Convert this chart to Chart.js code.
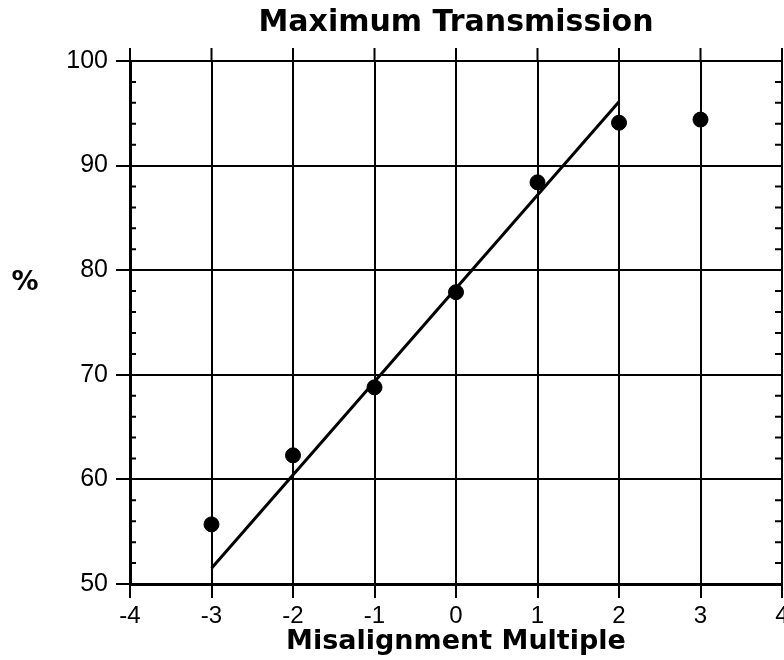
<!DOCTYPE html>
<html>
<head>
<meta charset="utf-8">
<script src="https://cdn.jsdelivr.net/npm/chart.js@4.4.1/dist/chart.umd.min.js"></script>
<style>
  html, body { margin: 0; padding: 0; background: #fff; }
  #wrap { width: 784px; height: 660px; }
</style>
</head>
<body>
<div id="wrap"><canvas id="chart" width="784" height="660"></canvas></div>
<script>
// measured points
const misalignment = [-3, -2, -1, 0, 1, 2, 3];
const transmission = [55.7, 62.3, 68.8, 77.9, 88.4, 94.1, 94.4];

// straight line drawn through the data
const fitX = [-3, 2];
const fitY = [51.5, 96.1];

const xRange = [-4, 4];
const yRange = [50, 100];
const yMajorStep = 10;
const yMinorStep = 2;

const toPoints = function (xs, ys) {
    return xs.map(function (x, i) { return { x: x, y: ys[i] }; });
};

// minor ticks on both side axes, tick stubs above the frame, and the "%" label
const extras = {
    id: 'extras',
    afterDraw: function (chart) {
        const ctx = chart.ctx;
        const area = chart.chartArea;
        const xs = chart.scales.x;
        const ys = chart.scales.y;
        ctx.save();
        ctx.strokeStyle = '#000';
        ctx.lineWidth = 2;
        ctx.beginPath();
        for (let v = yRange[0]; v <= yRange[1]; v += yMinorStep) {
            if (v % yMajorStep === 0) continue;
            const py = ys.getPixelForValue(v);
            ctx.moveTo(area.left, py);
            ctx.lineTo(area.left + 6, py);
            ctx.moveTo(area.right, py);
            ctx.lineTo(area.right - 7, py);
        }
        for (let v = xRange[0]; v <= xRange[1]; v++) {
            const px = xs.getPixelForValue(v);
            ctx.moveTo(px, area.top);
            ctx.lineTo(px, area.top - 13);
        }
        ctx.stroke();

        ctx.fillStyle = '#000';
        ctx.font = 'bold 27px "DejaVu Sans"';
        ctx.textAlign = 'center';
        ctx.textBaseline = 'middle';
        ctx.fillText('%', 25, area.top + (area.bottom - area.top) * 0.425);
        ctx.restore();
    }
};

new Chart(document.getElementById('chart').getContext('2d'), {
    type: 'scatter',
    data: {
        datasets: [
            {
                label: 'fit',
                type: 'line',
                data: toPoints(fitX, fitY),
                borderColor: '#000',
                borderWidth: 3,
                pointRadius: 0,
                fill: false
            },
            {
                label: 'Maximum Transmission',
                data: toPoints(misalignment, transmission),
                backgroundColor: '#000',
                borderColor: '#000',
                pointRadius: 7.5,
                pointHoverRadius: 7.5
            }
        ]
    },
    options: {
        responsive: false,
        animation: false,
        // let the last x label hang over the edge like the original
        layout: { autoPadding: false, padding: { right: 2, top: 0, left: 0, bottom: 0 } },
        plugins: {
            legend: { display: false },
            tooltip: { enabled: false },
            title: {
                display: true,
                fullSize: false,
                text: 'Maximum Transmission',
                color: '#000',
                font: { family: '"DejaVu Sans"', size: 30, weight: 'bold' },
                padding: { top: 5, bottom: 20 }
            }
        },
        scales: {
            x: {
                type: 'linear',
                min: xRange[0],
                max: xRange[1],
                afterFit: function (s) { s.height = 76; s.paddingRight = 0; },
                ticks: {
                    stepSize: 1,
                    color: '#000',
                    padding: 4,
                    font: { family: '"Liberation Sans"', size: 24 }
                },
                grid: { color: '#000', lineWidth: 2, tickLength: 14 },
                border: { color: '#000', width: 3 },
                title: {
                    display: true,
                    text: 'Misalignment Multiple',
                    color: '#000',
                    font: { family: '"DejaVu Sans"', size: 27, weight: 'bold' },
                    padding: { top: 0, bottom: 2 }
                }
            },
            y: {
                min: yRange[0],
                max: yRange[1],
                afterFit: function (s) { s.width = 130; },
                ticks: {
                    stepSize: yMajorStep,
                    color: '#000',
                    padding: 8,
                    font: { family: '"Liberation Sans"', size: 25 }
                },
                grid: { color: '#000', lineWidth: 2, tickLength: 14 },
                border: { color: '#000', width: 3 }
            }
        }
    },
    plugins: [extras]
});
</script>
</body>
</html>
